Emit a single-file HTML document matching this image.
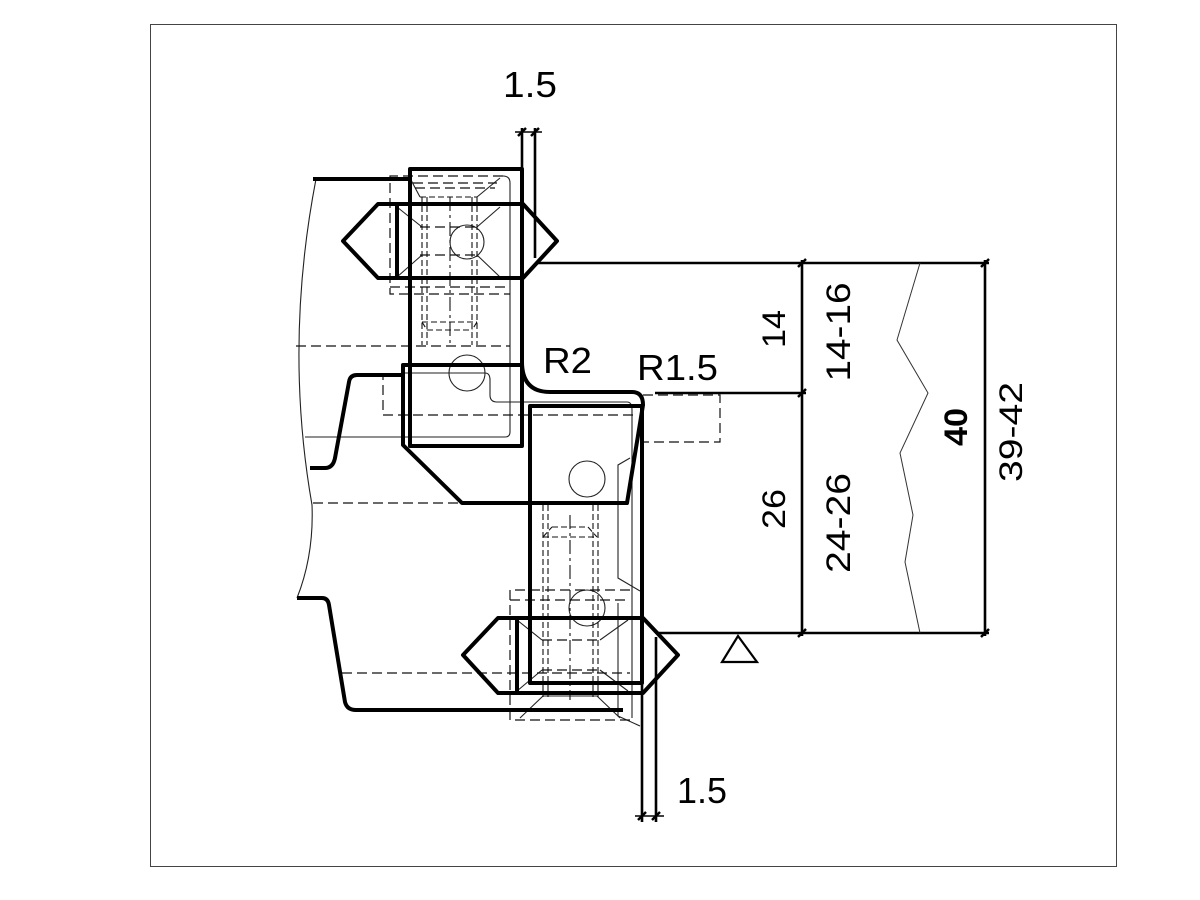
<!DOCTYPE html>
<html><head><meta charset="utf-8"><style>
html,body{margin:0;padding:0;background:#fff;}
svg{display:block;}
text{font-family:"Liberation Sans",Arial,sans-serif;fill:#000;}
</style></head><body>
<svg width="1200" height="900" viewBox="0 0 1200 900" xmlns="http://www.w3.org/2000/svg">
<rect x="0" y="0" width="1200" height="900" fill="#fff"/>
<rect x="150.5" y="24.5" width="966" height="842" fill="none" stroke="#444" stroke-width="1"/>

<!-- thin solid lines -->
<g fill="none" stroke="#222" stroke-width="1.1">
  <path d="M316,179 Q284,345 312,505 Q314,555 297,598"/>
  <path d="M503,176 Q510,176 510,183 L510,432 Q510,437 505,437 L305,437"/>
  <path d="M403,373 L485,373 Q490,373 490,380 L490,395 Q490,402 497,402 L627,402 Q632,402 632,410 L632,718"/>
  <path d="M630,458 L618,465 L618,578 L640,591"/>
  <path d="M618,603 L618,716 L640,726"/>
  <circle cx="467" cy="242" r="17"/>
  <circle cx="467" cy="373" r="18"/>
  <circle cx="587" cy="479" r="18"/>
  <circle cx="587" cy="608" r="18"/>
  <line x1="397" y1="207" x2="422" y2="227"/>
  <line x1="397" y1="277" x2="422" y2="255"/>
  <line x1="500" y1="207" x2="477" y2="227"/>
  <line x1="500" y1="277" x2="477" y2="255"/>
  <line x1="411" y1="180" x2="420" y2="197"/>
  <line x1="500" y1="178" x2="477" y2="197"/>
  <line x1="517" y1="620" x2="542" y2="640"/>
  <line x1="628" y1="620" x2="600" y2="640"/>
  <line x1="517" y1="691" x2="542" y2="670"/>
  <line x1="628" y1="691" x2="600" y2="670"/>
  <line x1="543" y1="696" x2="520" y2="718"/>
  <line x1="597" y1="696" x2="620" y2="718"/>
  <line x1="543" y1="696" x2="597" y2="696"/>
</g>

<!-- dashed lines -->
<g fill="none" stroke="#111" stroke-width="1.2" stroke-dasharray="10 5">
  <line x1="296" y1="346" x2="510" y2="346"/>
  <line x1="313" y1="503" x2="462" y2="503"/>
  <line x1="342" y1="673" x2="630" y2="673"/>
  <path d="M403,375 L383,375 L383,415 L633,415"/>
  <path d="M643,395 L720,395 L720,442 L643,442"/>
  <path d="M503,176 L390,176 L390,294 L510,294"/>
  <line x1="390" y1="287" x2="510" y2="287"/>
  <line x1="413" y1="183" x2="497" y2="183"/>
  <line x1="415" y1="188" x2="495" y2="188"/>
  <line x1="420" y1="227" x2="480" y2="227"/>
  <line x1="420" y1="255" x2="480" y2="255"/>
  <path d="M630,590 L510,590 L510,720 L630,720"/>
  <line x1="510" y1="600" x2="630" y2="600"/>
  <line x1="542" y1="640" x2="600" y2="640"/>
  <line x1="542" y1="670" x2="600" y2="670"/>
</g>
<g fill="none" stroke="#111" stroke-width="1.1" stroke-dasharray="6 3">
  <line x1="422" y1="197" x2="422" y2="345"/>
  <line x1="427" y1="197" x2="427" y2="345"/>
  <line x1="472" y1="197" x2="472" y2="345"/>
  <line x1="477" y1="197" x2="477" y2="345"/>
  <line x1="420" y1="197" x2="477" y2="197"/>
  <path d="M422,322 L477,322 M427,330 L472,330 M422,322 L427,330 M477,322 L472,330"/>
  <line x1="543" y1="505" x2="543" y2="697"/>
  <line x1="548" y1="505" x2="548" y2="697"/>
  <line x1="593" y1="505" x2="593" y2="697"/>
  <line x1="598" y1="505" x2="598" y2="697"/>
  <path d="M552,527 L588,527 M543,537 L597,537 M543,537 L552,527 M588,527 L597,537"/>
</g>
<g fill="none" stroke="#111" stroke-width="1.1" stroke-dasharray="14 4 3 4">
  <line x1="450" y1="197" x2="450" y2="345"/>
  <line x1="570" y1="515" x2="570" y2="700"/>
</g>

<!-- thick object lines -->
<g fill="none" stroke="#000" stroke-width="4" stroke-linejoin="round">
  <line x1="313" y1="179" x2="410" y2="179"/>
  <rect x="410" y="169" width="112" height="277"/>
  <polygon points="378,204 523,204 557,241 523,278 378,278 343,241"/>
  <line x1="397" y1="204" x2="397" y2="278"/>
  <path d="M522,362 Q522,392 550,392 L632,392 Q643,392 643,405 L627,503 L462,503 L403,445 L403,365 L522,365"/>
  <rect x="530" y="406" width="112" height="277"/>
  <polygon points="498,618 643,618 678,655 643,693 498,693 463,655"/>
  <line x1="517" y1="618" x2="517" y2="693"/>
  <path d="M403,375 L357,375 Q350,375 349,382 L335,458 Q333,468 325,468 L310,468"/>
  <path d="M297,598 L322,598 Q328,598 329,605 L345,702 Q347,710 356,710 L623,710"/>
</g>

<!-- dimension lines -->
<g fill="none" stroke="#000" stroke-width="2.6">
  <line x1="538" y1="263" x2="989" y2="263"/>
  <line x1="657" y1="633" x2="989" y2="633"/>
  <line x1="655" y1="393" x2="806" y2="393"/>
  <line x1="802" y1="260" x2="802" y2="636"/>
  <line x1="985" y1="260" x2="985" y2="636"/>
  <line x1="522" y1="128" x2="522" y2="169"/>
  <line x1="535" y1="128" x2="535" y2="258"/>
  <line x1="642" y1="683" x2="642" y2="822"/>
  <line x1="656" y1="637" x2="656" y2="822"/>
  <polygon points="738,636 722,662 757,662" stroke-width="2.2"/>
</g>
<g fill="none" stroke="#000" stroke-width="1.5">
  <line x1="515" y1="132" x2="542" y2="132"/>
  <line x1="635" y1="816" x2="664" y2="816"/>
</g>
<g fill="none" stroke="#000" stroke-width="2.5">
  <line x1="518" y1="136" x2="526" y2="128"/>
  <line x1="531" y1="136" x2="539" y2="128"/>
  <line x1="638" y1="820" x2="646" y2="812"/>
  <line x1="652" y1="820" x2="660" y2="812"/>
  <line x1="798" y1="267" x2="806" y2="259"/>
  <line x1="798" y1="397" x2="806" y2="389"/>
  <line x1="798" y1="637" x2="806" y2="629"/>
  <line x1="981" y1="267" x2="989" y2="259"/>
  <line x1="981" y1="637" x2="989" y2="629"/>
</g>

<!-- break line -->
<polyline points="920,263 897,340 928,393 900,453 913,515 905,562 920,633" fill="none" stroke="#333" stroke-width="1"/>

<!-- labels -->
<g font-size="36">
  <text x="503" y="97" textLength="54" lengthAdjust="spacingAndGlyphs">1.5</text>
  <text x="543" y="373" textLength="49" lengthAdjust="spacingAndGlyphs">R2</text>
  <text x="637" y="380" textLength="81" lengthAdjust="spacingAndGlyphs">R1.5</text>
  <text x="677" y="803" textLength="50" lengthAdjust="spacingAndGlyphs">1.5</text>
  <text x="785" y="329" text-anchor="middle" font-size="32" transform="rotate(-90 785 329)" textLength="38" lengthAdjust="spacingAndGlyphs">14</text>
  <text x="785" y="509" text-anchor="middle" font-size="32" transform="rotate(-90 785 509)" textLength="40" lengthAdjust="spacingAndGlyphs">26</text>
  <text x="850" y="332" text-anchor="middle" font-size="34" transform="rotate(-90 850 332)" textLength="99" lengthAdjust="spacingAndGlyphs">14-16</text>
  <text x="850" y="523" text-anchor="middle" font-size="34" transform="rotate(-90 850 523)" textLength="100" lengthAdjust="spacingAndGlyphs">24-26</text>
  <text x="967" y="427" text-anchor="middle" font-size="32" font-weight="bold" transform="rotate(-90 967 427)" textLength="38" lengthAdjust="spacingAndGlyphs">40</text>
  <text x="1022" y="432" text-anchor="middle" font-size="32" transform="rotate(-90 1022 432)" textLength="100" lengthAdjust="spacingAndGlyphs">39-42</text>
</g>
</svg>
</body></html>
